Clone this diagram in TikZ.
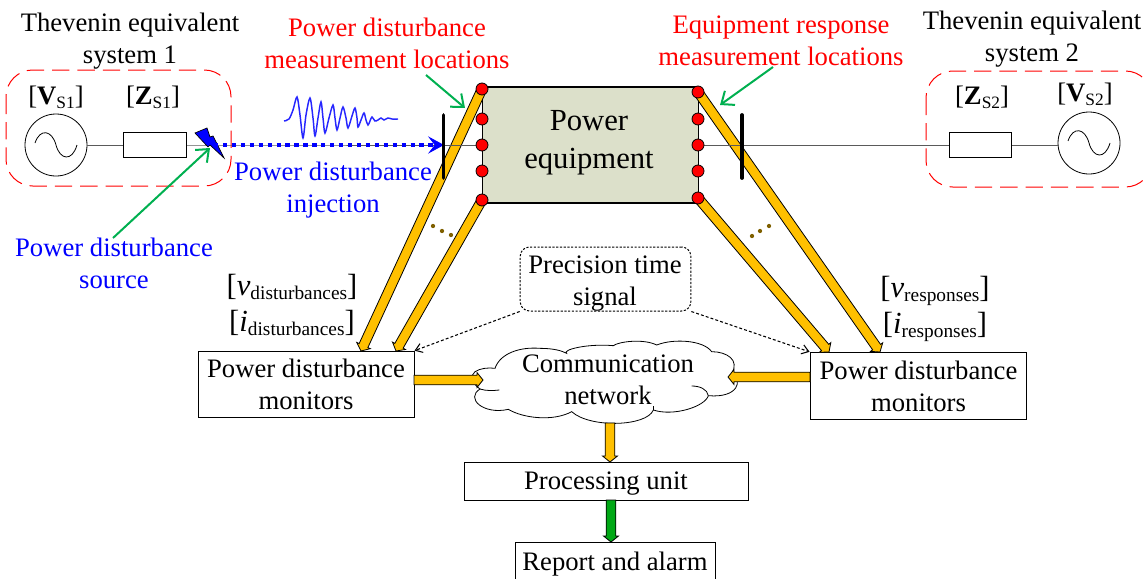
\documentclass[tikz,border=0pt]{standalone}
\usepackage{fontspec}
\setmainfont{Liberation Serif}
\usetikzlibrary{arrows.meta,calc}
\definecolor{yel}{HTML}{FFC000}
\definecolor{grn}{HTML}{00B050}
\definecolor{dgrn}{HTML}{00A815}
\definecolor{equip}{HTML}{DCE0CA}
\definecolor{brn}{HTML}{7F6000}
\definecolor{wirec}{HTML}{5A5A5A}
\newcommand\subsc[1]{\raisebox{-3.5pt}{\fontsize{14.5}{15}\selectfont #1}}
\newcommand\subsS[1]{\raisebox{-3pt}{\fontsize{13}{13}\selectfont #1}}
\newcommand\fatarrow[3][yel]{%
  \coordinate (h) at ($(#3)!4.5pt!(#2)$);
  \draw[line width=.6pt,fill=#1] ($(#2)!3.6pt!90:(#3)$) -- ($(h)!3.6pt!90:(#3)$) -- ($(h)!5.6pt!90:(#3)$) -- (#3) -- ($(h)!5.6pt!-90:(#3)$) -- ($(h)!3.6pt!-90:(#3)$) -- ($(#2)!3.6pt!-90:(#3)$) -- cycle;
}
\tikzset{
  txt/.style={inner sep=0pt,align=center,font=\fontsize{20}{24}\selectfont},
  qty/.style={inner sep=0pt,align=center,font=\fontsize{23}{26}\selectfont},
  boxn/.style={draw,line width=.75pt,fill=white,inner sep=0pt,align=center,font=\fontsize{20}{24}\selectfont},
  zbox/.style={draw,line width=.9pt,fill=white,minimum width=47pt,minimum height=18.7pt,inner sep=0pt},
  src/.style={draw,line width=.6pt,circle,minimum size=46.5pt,inner sep=0pt},
  wire/.style={draw=wirec,line width=.75pt},
  sysbox/.style={draw=red,line width=.75pt,dash pattern=on 13pt off 6pt,rounded corners=20pt},
  bar/.style={line width=2.8pt,line cap=round},
  gpoint/.style={draw=grn,line width=1.5pt,-{Straight Barb[length=8pt,width=13pt]}},
  mdot/.style={circle,draw=black,line width=.6pt,fill=red,minimum size=9pt,inner sep=0pt},
  bdot/.style={circle,fill=brn,minimum size=3.2pt,inner sep=0pt},
  sync/.style={line width=.8pt,dash pattern=on 2.2pt off 1.6pt,-{Straight Barb[length=5pt,width=7pt]}},
}
\begin{document}
\begin{tikzpicture}[x=.75pt,y=-.75pt]
\useasboundingbox (0,0) rectangle (1144,578);
\clip (0,0) rectangle (1144,578);
% titles
\node[txt] (t1) at (130,41) {Thevenin equivalent\\system 1};
\node[txt] (t2) at (1032,39) {Thevenin equivalent\\system 2};
\node[txt,text=red] (tm1) at (387,43) {Power disturbance\\measurement locations};
\node[txt,text=red] (tm2) at (781,41) {Equipment response\\measurement locations};
% system boxes
\draw[sysbox] (6,70) rectangle (231,186);
\draw[sysbox] (926,71) rectangle (1152,187);
% equipment
\node[draw,line width=.8pt,fill=equip,minimum width=162.5pt,minimum height=87pt,inner sep=0pt] (eq) at (590.5,145) {};
\node[inner sep=0pt,align=center,font=\fontsize{23}{28.5}\selectfont] (eqt) at (589,143) {Power\\equipment};
% sources and impedances
\node[src] (s1) at (56,145) {};
\node[src] (s2) at (1089,143) {};
\node[zbox] (z1) at (155,145) {};
\node[zbox] (z2) at (980.5,145) {};
\draw[line width=.6pt] (35,143) .. controls (40,128) and (52,130) .. (56,145) .. controls (60,160) and (72,162) .. (77,145);
\draw[line width=.6pt] (1068,141) .. controls (1073,126) and (1085,128) .. (1089,143) .. controls (1093,158) and (1105,160) .. (1110,143);
\node[txt] (lv1) at (56,97) {[\textbf{V}\subsS{S1}]};
\node[txt] (lz1) at (153,97) {[\textbf{Z}\subsS{S1}]};
\node[txt] (lz2) at (982,97) {[\textbf{Z}\subsS{S2}]};
\node[txt] (lv2) at (1085,94) {[\textbf{V}\subsS{S2}]};
% monitors etc
\node[boxn,minimum width=162pt,minimum height=50pt] (m1) at (306,384.5) {Power disturbance\\monitors};
\node[boxn,minimum width=162.7pt,minimum height=50.5pt] (m2) at (918.5,386) {Power disturbance\\monitors};
% coordinates
\coordinate (a1) at (482,89);
\coordinate (a2) at (482,200);
\coordinate (a3) at (698,92);
\coordinate (a4) at (698,198);
\coordinate (e1) at (361,351);
\coordinate (e2) at (396,351);
\coordinate (e3) at (880,352);
\coordinate (e4) at (829,352);
% yellow measurement cables
\fatarrow{a1}{e1}
\fatarrow{a2}{e2}
\fatarrow{a3}{e3}
\fatarrow{a4}{e4}
% wires
\coordinate (lt) at (214,145);
\coordinate (busl) at (444,145);
\coordinate (busr) at (742,145);
\draw[wire] (s1) -- (z1);
\draw[wire] (z1) -- (lt) -- (eq.west);
\draw[wire] (eq.east) -- (z2);
\draw[wire] (z2) -- (z2 -| s2.west);
% lightning
\draw[line width=.5pt,fill=blue] (195,133) -- (207,128) -- (210,137) -- (213,136) -- (224,158) -- (210,145) -- (208,147) -- cycle;
% wave
\draw[blue!85!white,line width=1.1pt,smooth] plot coordinates {(284,121) (289,119) (293,110) (297,97) (300,115) (303,138) (306,115) (310,98) (313,118) (315,136) (318,118) (321,102) (323,118) (325,133) (329,118) (333,105) (335,118) (337,130) (340,118) (343,107) (346,118) (348,128) (352,116) (355,108) (357,118) (358,127) (361,120) (364,113) (366,120) (368,125) (370,121) (372,117) (375,121) (378,120) (381,118) (384,120) (388,118) (392,119) (398,119)};
% injection
\draw[blue,line width=2.6pt,dash pattern=on 3.2pt off 3.5pt,-{Stealth[length=12pt,width=13pt,inset=5pt,line width=.6pt]}] (lt) -- (busl);
% bars
\draw[bar] (443.5,115) -- (443.5,178);
\draw[bar] (742,115) -- (742,178);
% dots
\foreach \n/\y in {1/89,2/119,3/145,4/171,5/200} {\node[mdot] (l\n) at (482,\y) {};}
\foreach \n/\y in {1/92,2/119,3/145,4/171,5/198} {\node[mdot] (r\n) at (698,\y) {};}
\node[bdot] (d1) at (433,226) {};
\node[bdot] (d2) at (442,231) {};
\node[bdot] (d3) at (451,235) {};
\node[bdot] (d4) at (752,236) {};
\node[bdot] (d5) at (760,231) {};
\node[bdot] (d6) at (769,226) {};
% green pointers
\coordinate (g1s) at (426,75);
\coordinate (g1e) at (465,108);
\coordinate (g2s) at (773,67);
\coordinate (g2e) at (720,105);
\coordinate (g3s) at (113,238);
\coordinate (g3e) at (210,148);
\draw[gpoint] (g1s) -- (g1e);
\draw[gpoint] (g2s) -- (g2e);
\draw[gpoint] (g3s) -- (g3e);
% blue labels
\node[txt,text=blue] (inj) at (333,190) {Power disturbance\\injection};
\node[txt,text=blue] (srcl) at (114,263) {Power disturbance\\source};
% measured quantities
\node[qty] (vd) at (292,287) {[\textit{v}\subsc{disturbances}]};
\node[qty] (id) at (292,323) {[\textit{i}\subsc{disturbances}]};
\node[qty] (vr) at (935,291) {[\textit{v}\subsc{responses}]};
\node[qty] (ir) at (935,327) {[\textit{i}\subsc{responses}]};
% precision time
\node[draw,line width=.75pt,dash pattern=on 1.6pt off 1.2pt,rounded corners=7pt,inner sep=0pt,minimum width=128pt,minimum height=48pt] (pt) at (605.5,279) {};
\node[txt] (ptt) at (605,284) {Precision time\\signal};
\draw[sync] (pt.south west) -- (m1.north east);
\draw[sync] (pt.south east) -- (m2.north west);
% cloud
\begin{scope}[shift={(460,330)},x=.25pt,y=-.25pt]
\draw[line width=.6pt,fill=white] (60,177) .. controls (35,160) and (30,135) .. (45,125)
 .. controls (60,115) and (85,112) .. (105,115)
 .. controls (120,70) and (180,50) .. (240,55)
 .. controls (280,55) and (305,62) .. (320,70)
 .. controls (305,60) and (380,40) .. (460,47)
 .. controls (475,35) and (550,25) .. (590,45)
 .. controls (640,25) and (730,30) .. (755,65)
 .. controls (800,65) and (840,90) .. (815,130)
 .. controls (850,150) and (835,205) .. (745,197)
 .. controls (735,230) and (640,260) .. (580,240)
 .. controls (560,290) and (390,295) .. (335,245)
 .. controls (280,275) and (190,265) .. (145,238)
 .. controls (70,255) and (15,205) .. (60,177) -- cycle;
\draw[line width=.6pt] (60,177) .. controls (78,183) and (100,182) .. (118,180);
\draw[line width=.6pt] (695,168) .. controls (720,168) and (742,178) .. (745,197);
\draw[line width=.6pt] (580,228) -- (580,240);
\end{scope}
\node[txt] (cl) at (608,380) {Communication\\network};
% processing
\node[boxn,minimum width=213pt,minimum height=28.5pt] (pu) at (606,481) {};
\node[txt] (put) at (606,484) {Processing unit};
\draw[line width=.75pt,fill=white] (515,542) rectangle (715,600);
\node[txt] (ra) at (615,564) {Report and alarm};
% system arrows
\coordinate (c1) at (483,380);
\coordinate (c2) at (728,377);
\coordinate (m1o) at (414,380);
\coordinate (m2o) at (810,377);
\coordinate (c3) at (610,423);
\coordinate (p3) at (610,462);
\coordinate (p4) at (611,500);
\coordinate (ra4) at (611,542);
\fatarrow{m1o}{c1}
\fatarrow{m2o}{c2}
\fatarrow{c3}{p3}
\fatarrow[dgrn]{p4}{ra4}
\end{tikzpicture}
\end{document}
